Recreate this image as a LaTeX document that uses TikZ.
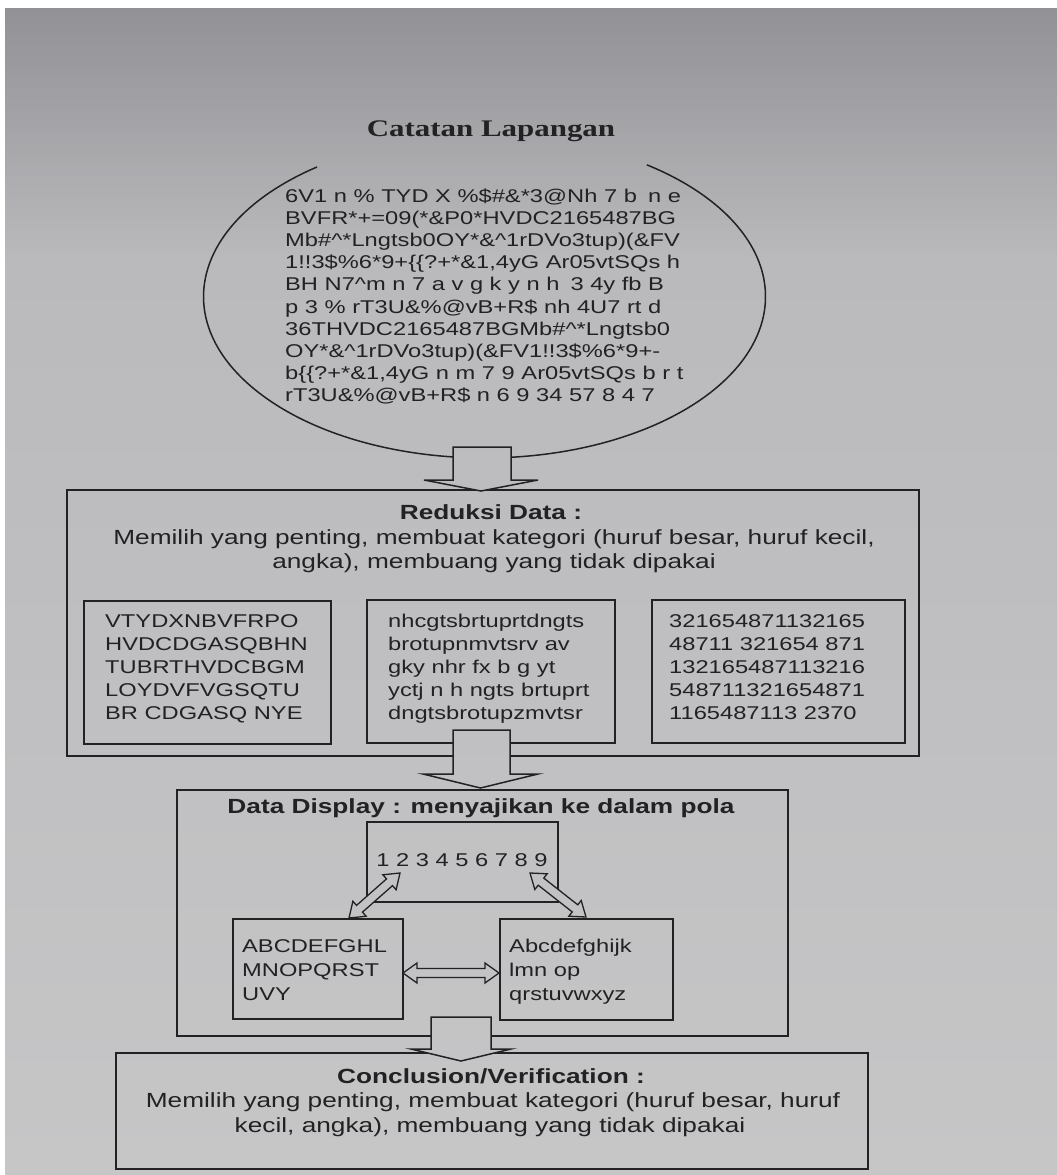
\documentclass[tikz,border=0pt]{standalone}
\usepackage{fontspec}
\setmainfont{Liberation Sans}[FakeStretch=1.28]
\newfontfamily\titlefont{Liberation Serif}[FakeStretch=1.3]
\usetikzlibrary{calc}
\definecolor{ink}{RGB}{34,34,36}
\definecolor{papertop}{RGB}{146,146,150}
\definecolor{papermid}{RGB}{186,186,189}
\definecolor{paperbot}{RGB}{198,198,199}
\tikzset{
  paperA/.style={top color=papertop, bottom color=papermid},
  paperB/.style={top color=papermid, bottom color=paperbot},
  paperfill/.style={path picture={\shade[paperA] (0,8) rectangle (1057,261);
                                  \shade[paperB] (0,260) rectangle (1057,1175);}},
  box/.style={draw=ink, line width=1.6pt, inner sep=0pt, anchor=north west},
  txt/.style={text=ink, inner sep=0pt, anchor=base west, font=\fontsize{18.5}{22}\selectfont},
  body/.style={text=ink, inner sep=0pt, anchor=base, font=\fontsize{20.5}{24}\selectfont},
  hdr/.style={text=ink, inner sep=0pt, anchor=base, font=\bfseries\fontsize{20.5}{24}\selectfont},
  blockarrow/.style={draw=ink, line width=1.5pt, line join=miter, paperfill},
  dblstyle/.style={draw=ink, line width=1.3pt, line join=miter, paperfill},
}
\newcommand\mydblarrow[2]{%
  \coordinate (dA) at (#1); \coordinate (dB) at (#2);
  \coordinate (d1) at ($(dA)!14pt!(dB)$);
  \coordinate (d2) at ($(dB)!14pt!(dA)$);
  \draw[dblstyle] (dA) -- ($(d1)!10pt!90:(dB)$) -- ($(d1)!4.5pt!90:(dB)$)
    -- ($(d2)!4.5pt!-90:(dA)$) -- ($(d2)!10pt!-90:(dA)$) -- (dB)
    -- ($(d2)!10pt!90:(dA)$) -- ($(d2)!4.5pt!90:(dA)$)
    -- ($(d1)!4.5pt!-90:(dB)$) -- ($(d1)!10pt!-90:(dB)$) -- cycle;}
\begin{document}
\begin{tikzpicture}[x=1pt,y=-1pt]
\useasboundingbox (0,0) rectangle (1057,1175);
\fill[white] (0,0) rectangle (1057,1175);
\shade[paperA] (5,8) rectangle (1057,261);
\shade[paperB] (5,260) rectangle (1057,1175);

% title and ellipse
\node[font=\titlefont\bfseries\fontsize{23.8}{28}\selectfont, text=ink, anchor=base, inner sep=0pt] (title) at (491,136) {Catatan Lapangan};
\draw[ink, line width=1.5pt] (317,167) arc[start angle=126.6, end angle=414.7, x radius=281pt, y radius=161.4pt];
\foreach \t [count=\i from 0] in {
  {6V1 n \% TYD X \%\$\#\&*3@Nh 7 b\hspace{0.6em}n e},
  {BVFR*+=09(*\&P0*HVDC2165487BG},
  {Mb\#\textasciicircum*Lngtsb0OY*\&\textasciicircum1rDVo3tup)(\&FV},
  {1!!3\$\%6*9+\{\{?+*\&1,4yG Ar05vtSQs h},
  {BH N7\textasciicircum m n 7 a v g k y n h\hspace{0.6em}3 4y fb B},
  {p 3 \% rT3U\&\%@vB+R\$ nh 4U7 rt d},
  {36THVDC2165487BGMb\#\textasciicircum*Lngtsb0},
  {OY*\&\textasciicircum1rDVo3tup)(\&FV1!!3\$\%6*9+-},
  {b\{\{?+*\&1,4yG n m 7 9 Ar05vtSQs b r t},
  {rT3U\&\%@vB+R\$ n 6 9 34 57 8 4 7}}
  \node[txt] (e\i) at (285,{202+22.2*\i}) {\t};

% Reduksi Data
\node[box, minimum width=852pt, minimum height=266pt] (red) at (66,489) {};
\node[hdr] (redh) at (491,519) {Reduksi Data :};
\node[body] (red1) at (494,544) {Memilih yang penting, membuat kategori (huruf besar, huruf kecil,};
\node[body] (red2) at (494,568) {angka), membuang yang tidak dipakai};
\node[box, minimum width=247pt, minimum height=143pt] (rl) at (83,600) {};
\node[box, minimum width=248pt, minimum height=143pt] (rm) at (366,599) {};
\node[box, minimum width=253pt, minimum height=143pt] (rr) at (651,599) {};
\foreach \t [count=\i from 0] in {VTYDXNBVFRPO, HVDCDGASQBHN, TUBRTHVDCBGM, LOYDVFVGSQTU, BR CDGASQ NYE}
  \node[txt] (l\i) at (105,{627+23*\i}) {\t};
\foreach \t [count=\i from 0] in {nhcgtsbrtuprtdngts, brotupnmvtsrv av, gky nhr fx b g yt, yctj n h ngts brtuprt, dngtsbrotupzmvtsr}
  \node[txt] (m\i) at (388,{627+23*\i}) {\t};
\foreach \t [count=\i from 0] in {321654871132165, 48711 321654 871, 132165487113216, 548711321654871, 1165487113 2370}
  \node[txt] (r\i) at (669,{627+23*\i}) {\t};

% Data Display
\node[box, minimum width=611pt, minimum height=246pt] (dd) at (176,789) {};
\node[hdr] (ddh) at (481,813) {Data Display : menyajikan ke dalam pola};
\node[box, minimum width=191pt, minimum height=80pt] (num) at (366,821) {};
\node[txt, anchor=base] (numt) at (462,866) {1 2 3 4 5 6 7 8 9};
\node[box, minimum width=170pt, minimum height=100pt] (up) at (232,918) {};
\node[box, minimum width=173pt, minimum height=101pt] (lo) at (499,918) {};
\foreach \t [count=\i from 0] in {ABCDEFGHL, MNOPQRST, UVY}
  \node[txt] (u\i) at (242,{952+24*\i}) {\t};
\foreach \t [count=\i from 0] in {Abcdefghijk, lmn op, qrstuvwxyz}
  \node[txt] (w\i) at (509,{952+24*\i}) {\t};

% Conclusion
\node[box, minimum width=752pt, minimum height=116pt] (con) at (115,1052) {};
\node[hdr] (conh) at (491,1083) {Conclusion/Verification :};
\node[body] (con1) at (493,1107) {Memilih yang penting, membuat kategori (huruf besar, huruf};
\node[body] (con2) at (490,1132) {kecil, angka), membuang yang tidak dipakai};

% block arrows
\draw[blockarrow] (453,447) -- (453,480) -- (424,480) -- (481,491) -- (538,480) -- (511,480) -- (511,447) -- cycle;
\draw[blockarrow] (453,730) -- (453,774) -- (423,774) -- (480.5,788) -- (538,774) -- (510,774) -- (510,730) -- cycle;
\draw[blockarrow] (431,1017) -- (431,1049) -- (411,1049) -- (461,1061) -- (511,1049) -- (491,1049) -- (491,1017) -- cycle;

% double arrows
\coordinate (la) at (400,873); \coordinate (lb) at (349,918);
\coordinate (ra) at (530,873); \coordinate (rb) at (586,917);
\coordinate (ha) at (403,973); \coordinate (hb) at (499,973);
\mydblarrow{la}{lb}
\mydblarrow{ra}{rb}
\mydblarrow{ha}{hb}
\end{tikzpicture}
\end{document}
